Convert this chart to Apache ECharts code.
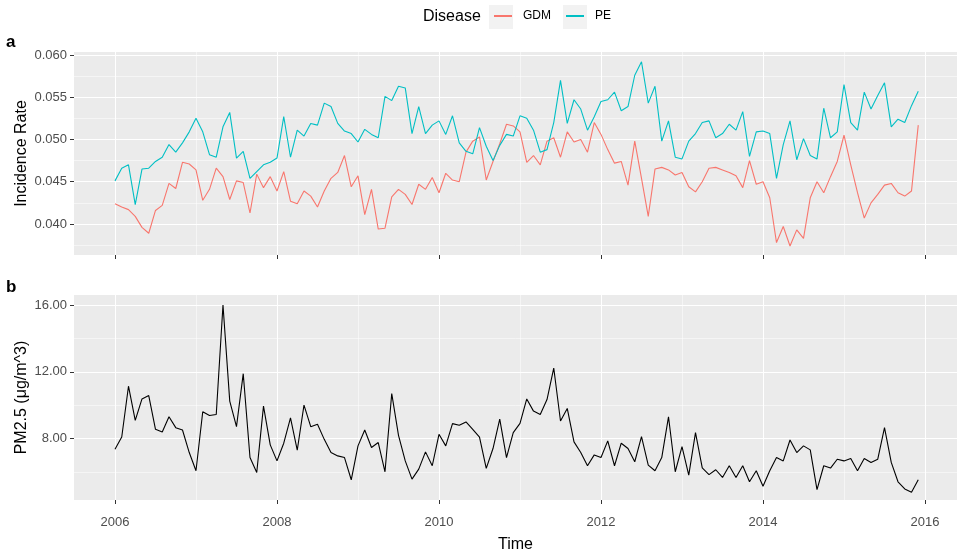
<!DOCTYPE html>
<html><head><meta charset="utf-8">
<script src="https://cdn.jsdelivr.net/npm/echarts@6/dist/echarts.min.js"></script>
<style>html,body{margin:0;padding:0;background:#fff}#c{width:960px;height:555px}</style>
</head><body><div id="c"></div>
<script>
const startYear = 2006;
const gdm = [
0.0424,0.0420,0.0417,0.0409,0.0396,0.0389,0.0416,0.0422,0.0448,0.0442,0.0473,0.0471,
0.0464,0.0428,0.0441,0.0466,0.0456,0.0429,0.0451,0.0449,0.0413,0.0459,0.0443,0.0456,
0.0439,0.0462,0.0427,0.0424,0.0439,0.0433,0.0420,0.0439,0.0454,0.0461,0.0481,0.0444,
0.0457,0.0411,0.0441,0.0394,0.0395,0.0432,0.0441,0.0435,0.0423,0.0447,0.0441,0.0455,
0.0437,0.0460,0.0452,0.0450,0.0485,0.0498,0.0503,0.0452,0.0474,0.0495,0.0518,0.0516,
0.0509,0.0473,0.0481,0.0470,0.0498,0.0502,0.0479,0.0509,0.0497,0.0500,0.0485,0.0520,
0.0506,0.0488,0.0472,0.0474,0.0446,0.0498,0.0454,0.0409,0.0465,0.0467,0.0464,0.0458,
0.0461,0.0444,0.0438,0.0450,0.0466,0.0467,0.0464,0.0461,0.0457,0.0443,0.0475,0.0447,
0.0450,0.0431,0.0378,0.0397,0.0374,0.0393,0.0383,0.0431,0.0450,0.0437,0.0456,0.0474,
0.0505,0.0470,0.0437,0.0407,0.0425,0.0435,0.0446,0.0448,0.0437,0.0433,0.0439,0.0517];
const pe = [
0.0451,0.0466,0.0470,0.0423,0.0465,0.0466,0.0474,0.0479,0.0494,0.0485,0.0496,0.0509,
0.0525,0.0509,0.0482,0.0479,0.0515,0.0532,0.0478,0.0486,0.0454,0.0462,0.0470,0.0473,
0.0478,0.0527,0.0479,0.0511,0.0504,0.0519,0.0517,0.0543,0.0539,0.0519,0.0510,0.0507,
0.0497,0.0512,0.0506,0.0502,0.0551,0.0546,0.0563,0.0561,0.0507,0.0539,0.0507,0.0517,
0.0522,0.0506,0.0528,0.0496,0.0486,0.0483,0.0514,0.0492,0.0475,0.0493,0.0506,0.0504,
0.0528,0.0525,0.0511,0.0485,0.0488,0.0520,0.0570,0.0519,0.0547,0.0536,0.0511,0.0527,
0.0545,0.0547,0.0556,0.0534,0.0539,0.0576,0.0592,0.0543,0.0563,0.0498,0.0522,0.0479,
0.0477,0.0498,0.0507,0.0520,0.0522,0.0502,0.0507,0.0518,0.0511,0.0533,0.0480,0.0509,
0.0510,0.0507,0.0454,0.0494,0.0522,0.0476,0.0501,0.0481,0.0477,0.0537,0.0502,0.0509,
0.0565,0.0520,0.0511,0.0556,0.0536,0.0552,0.0567,0.0515,0.0524,0.0520,0.0540,0.0557];
const pm25 = [
7.37,8.10,11.14,9.10,10.38,10.58,8.56,8.40,9.31,8.66,8.52,7.17,
6.08,9.61,9.39,9.45,16.00,10.25,8.72,11.89,6.87,5.98,9.95,7.63,
6.67,7.73,9.25,7.31,10.01,8.72,8.86,7.96,7.17,6.97,6.87,5.54,
7.57,8.52,7.47,7.77,6.02,10.70,8.20,6.67,5.58,6.18,7.21,6.38,
8.26,7.57,8.90,8.80,9.00,8.56,8.10,6.22,7.41,9.17,6.87,8.36,
8.92,10.38,9.65,9.45,10.34,12.23,9.06,9.81,7.81,7.17,6.38,7.03,
6.87,7.87,6.38,7.73,7.41,6.62,8.12,6.42,6.08,6.87,9.31,6.02,
7.53,5.82,8.36,6.25,5.85,6.14,5.68,6.38,5.68,6.38,5.42,6.08,
5.15,6.08,6.87,6.67,7.92,7.17,7.57,7.33,4.95,6.38,6.24,6.77,
6.67,6.81,6.08,6.81,6.58,6.77,8.66,6.58,5.42,4.99,4.79,5.54];
const xMajorTicks = [2006,2008,2010,2012,2014,2016];
const xMinorTicks = [2007,2009,2011,2013,2015];
const incMajorTicks = [0.040,0.045,0.050,0.055,0.060];
const incMinorTicks = [0.0375,0.0425,0.0475,0.0525,0.0575];
const pmMajorTicks = [8,12,16];
const pmMinorTicks = [6,10,14];
const seriesNames = ['GDM','PE'];
const colors = ['#F8766D','#00BFC4'];

const toPairs = arr => arr.map((v,i)=>[startYear + i/12, v]);
const FONT = '"Liberation Sans", Arial, sans-serif';
const X_MIN = 2005.494, X_MAX = 2016.395;
const grids = [
  {left:74, right:3, top:52, height:203, show:true, backgroundColor:'#EBEBEB', borderWidth:0, containLabel:false, outerBoundsMode:'none'},
  {left:74, right:3, top:295, height:205, show:true, backgroundColor:'#EBEBEB', borderWidth:0, containLabel:false, outerBoundsMode:'none'}
];
function xMajor(gi, labels){
  return {gridIndex:gi, type:'value', min:X_MIN, max:X_MAX, position:'bottom',
    axisLine:{show:false},
    axisTick:{show:true, length:4, lineStyle:{color:'#333', width:1}, customValues:xMajorTicks},
    axisLabel:{show:labels, customValues:xMajorTicks, color:'#4D4D4D', fontSize:13, fontFamily:FONT, margin:16,
      formatter:v=>String(Math.round(v))},
    splitLine:{show:true, lineStyle:{color:'#fff', width:1.1}},
    name: labels ? 'Time' : '', nameLocation:'middle', nameGap:37,
    nameTextStyle:{color:'#000', fontSize:16, fontFamily:FONT}};
}
function xMinor(gi){
  return {gridIndex:gi, type:'value', min:X_MIN, max:X_MAX, position:'bottom',
    axisLine:{show:false}, axisTick:{show:false, customValues:xMinorTicks},
    axisLabel:{show:false, customValues:xMinorTicks},
    splitLine:{show:true, lineStyle:{color:'#fff', width:0.5}}};
}
function yMajor(gi, min, max, ticks, dec, name){
  return {gridIndex:gi, type:'value', min:min, max:max, position:'left',
    axisLine:{show:false},
    axisTick:{show:true, length:4, lineStyle:{color:'#333', width:1}, customValues:ticks},
    axisLabel:{show:true, customValues:ticks, color:'#4D4D4D', fontSize:13, fontFamily:FONT, margin:7,
      formatter:v=>Number(v).toFixed(dec)},
    splitLine:{show:true, lineStyle:{color:'#fff', width:1.1}},
    name:name, nameLocation:'middle', nameGap:44, nameMoveOverlap:false,
    nameTextStyle:{color:'#000', fontSize:16, fontFamily:FONT}};
}
function yMinor(gi, min, max, ticks){
  return {gridIndex:gi, type:'value', min:min, max:max, position:'left',
    axisLine:{show:false}, axisTick:{show:false, customValues:ticks},
    axisLabel:{show:false, customValues:ticks},
    splitLine:{show:true, lineStyle:{color:'#fff', width:0.5}}};
}
const INC_MIN = 0.03633, INC_MAX = 0.06035, PM_MIN = 4.33, PM_MAX = 16.6;

const option = {
  animation:false,
  backgroundColor:'#fff',
  textStyle:{fontFamily:FONT},
  grid:grids,
  xAxis:[xMinor(0), xMajor(0,false), xMinor(1), xMajor(1,true)],
  yAxis:[yMinor(0,INC_MIN,INC_MAX,incMinorTicks), yMajor(0,INC_MIN,INC_MAX,incMajorTicks,3,'Incidence Rate'),
         yMinor(1,PM_MIN,PM_MAX,pmMinorTicks), yMajor(1,PM_MIN,PM_MAX,pmMajorTicks,2,'PM2.5 (μg/m^3)')],
  legend:{data:seriesNames, left:494, top:10, padding:0, icon:'rect', itemWidth:18, itemHeight:2, itemGap:15,
    textStyle:{fontSize:12, color:'#000', fontFamily:FONT, padding:[0,0,0,6]}},
  graphic:[
    {type:'rect', left:489, top:5, shape:{width:24, height:24}, style:{fill:'#F2F2F2'}, z:-1},
    {type:'rect', left:563, top:5, shape:{width:24, height:24}, style:{fill:'#F2F2F2'}, z:-1},
    {type:'text', left:423, top:9, style:{text:'Disease', fontSize:16, fill:'#000', fontFamily:FONT}},
    {type:'text', left:6, top:34, style:{text:'a', fontSize:17, fontWeight:'bold', fill:'#000', fontFamily:FONT}},
    {type:'text', left:6, top:279, style:{text:'b', fontSize:17, fontWeight:'bold', fill:'#000', fontFamily:FONT}}
  ],
  series:[
    {name:seriesNames[0], type:'line', xAxisIndex:1, yAxisIndex:1, data:toPairs(gdm), showSymbol:false,
      color:colors[0], lineStyle:{color:colors[0], width:1.1}},
    {name:seriesNames[1], type:'line', xAxisIndex:1, yAxisIndex:1, data:toPairs(pe), showSymbol:false,
      color:colors[1], lineStyle:{color:colors[1], width:1.1}},
    {name:'PM2.5', type:'line', xAxisIndex:3, yAxisIndex:3, data:toPairs(pm25), showSymbol:false,
      color:'#000', lineStyle:{color:'#000', width:1.1}}
  ]
};
const chart = echarts.init(document.getElementById('c'), null, {renderer:'canvas'});
chart.setOption(option);
</script></body></html>
